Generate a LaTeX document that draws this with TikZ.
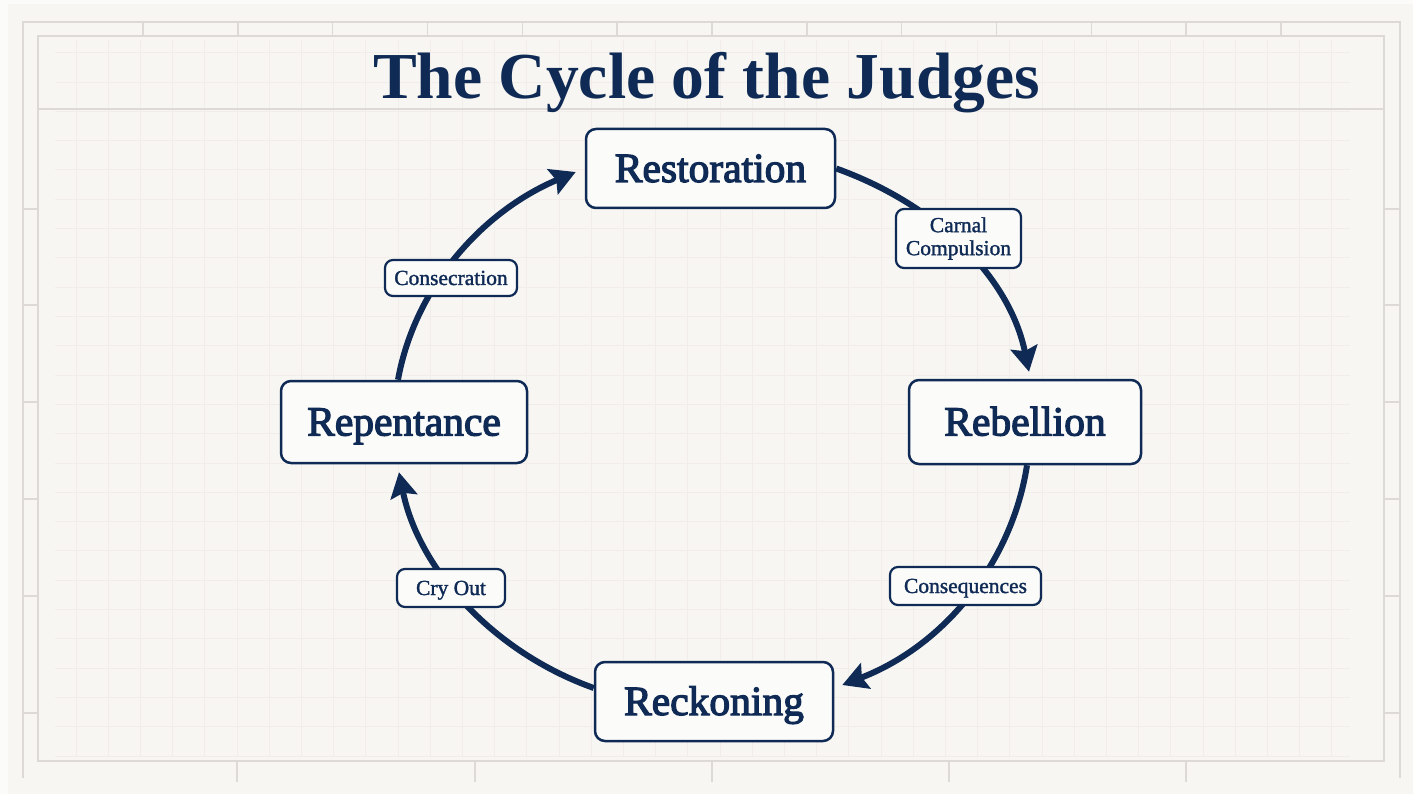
\documentclass[tikz,border=0pt]{standalone}
\usepackage{fontspec}
\setmainfont{Liberation Serif}
\newfontfamily\stagefont[FakeBold=3]{Liberation Serif}
\newfontfamily\tagfont[FakeBold=1.5]{Liberation Serif}
\usetikzlibrary{arrows.meta}
\definecolor{navy}{HTML}{0F2B55}
\definecolor{bgpaper}{HTML}{F7F6F2}
\definecolor{edgepaper}{HTML}{FBFBFA}
\definecolor{framegray}{HTML}{DCD9D6}
\definecolor{gridpink}{HTML}{F2EDEA}
\definecolor{boxfill}{HTML}{FBFBFA}
\begin{document}
\begin{tikzpicture}[x=1pt,y=-1pt,
  stage/.style={draw=navy, line width=2.5pt, rounded corners=10pt, fill=boxfill, text=navy,
    font=\fontsize{41.5}{46}\stagefont, inner sep=0pt, text height=27pt, text depth=0pt},
  tagbase/.style={draw=navy, line width=2.2pt, rounded corners=8pt, fill=boxfill, text=navy,
    font=\fontsize{21.5}{23}\tagfont, inner sep=0pt, align=center},
  tag/.style={tagbase, text height=14pt, text depth=0pt},
  flow/.style={draw=navy, line width=6pt, -{Stealth[length=25pt,width=27pt,inset=4pt]}},
  frameline/.style={draw=framegray, line width=1.5pt}]
\useasboundingbox (0,0) rectangle (1413,794);
\fill[bgpaper] (0,0) rectangle (1413,794);
\fill[edgepaper] (0,0) rectangle (1413,4);
\fill[edgepaper] (0,0) rectangle (8,794);
% grid
\foreach \k in {0,...,39}
  \draw[gridpink, line width=1pt] ({76+32.2*\k},40) -- ({76+32.2*\k},757);
\foreach \k in {-4,...,20}
  \draw[gridpink, line width=1pt] (55,{170+29.3*\k}) -- (1350,{170+29.3*\k});
% frame
\draw[frameline] (23,778) -- (23,22) -- (1400,22) -- (1400,778);
\draw[frameline] (38,36) rectangle (1384,761);
\draw[frameline] (38,109) -- (1384,109);
\foreach \k in {0,...,12}
  \draw[frameline] ({143+94.83*\k},22) -- ({143+94.83*\k},36);
\foreach \yy in {209,305,402,499,596,713} {
  \draw[frameline] (23,\yy) -- (38,\yy);
  \draw[frameline] (1384,\yy) -- (1400,\yy);
}
\foreach \xx in {237,475,712,949,1186}
  \draw[frameline] (\xx,761) -- (\xx,782);
% title
\node[text=navy, font=\fontsize{65.6}{70}\selectfont\bfseries, anchor=base, inner sep=0pt] (title) at (706.5,99) {The Cycle of the Judges};
% stages
\node[stage, minimum width=249pt, minimum height=79pt] (rest) at (710.5,168.5) {Restoration};
\node[stage, minimum width=232pt, minimum height=84pt] (rebel) at (1025,422) {Rebellion};
\node[stage, minimum width=246pt, minimum height=82pt] (rep) at (404,422) {Repentance};
\node[stage, minimum width=238pt, minimum height=79pt] (reck) at (714,701.5) {Reckoning};
% connectors
\draw[flow] (rest.east) .. controls (936.9,204.6) and (1009.7,277.3) .. ([xshift=4pt,yshift=7pt]rebel.north);
\draw[flow] ([xshift=2pt]rebel.south) .. controls (1012,562.1) and (944.8,645.4) .. ([xshift=8pt,yshift=16.5pt]reck.east);
\draw[flow] ([yshift=13.5pt]reck.west) .. controls (491.5,651.5) and (418.4,568) .. ([xshift=-5pt,yshift=-8pt]rep.south);
\draw[flow] ([xshift=-6pt]rep.north) .. controls (414.5,288.3) and (480.9,212) .. ([xshift=-9pt,yshift=-3.5pt]rest.west);
% labels
\node[tagbase, minimum width=125pt, minimum height=59pt] (carnal) at (958.5,238.5) {\raisebox{-2pt}{Carnal}\\\raisebox{-2pt}{Compulsion}};
\node[tag, minimum width=132pt, minimum height=36pt] (consec) at (451,278) {Consecration};
\node[tag, minimum width=151pt, minimum height=38pt] (conseq) at (965.5,586) {Consequences};
\node[tag, minimum width=108pt, minimum height=38pt] (cry) at (451,588) {Cry Out};
\end{tikzpicture}
\end{document}
